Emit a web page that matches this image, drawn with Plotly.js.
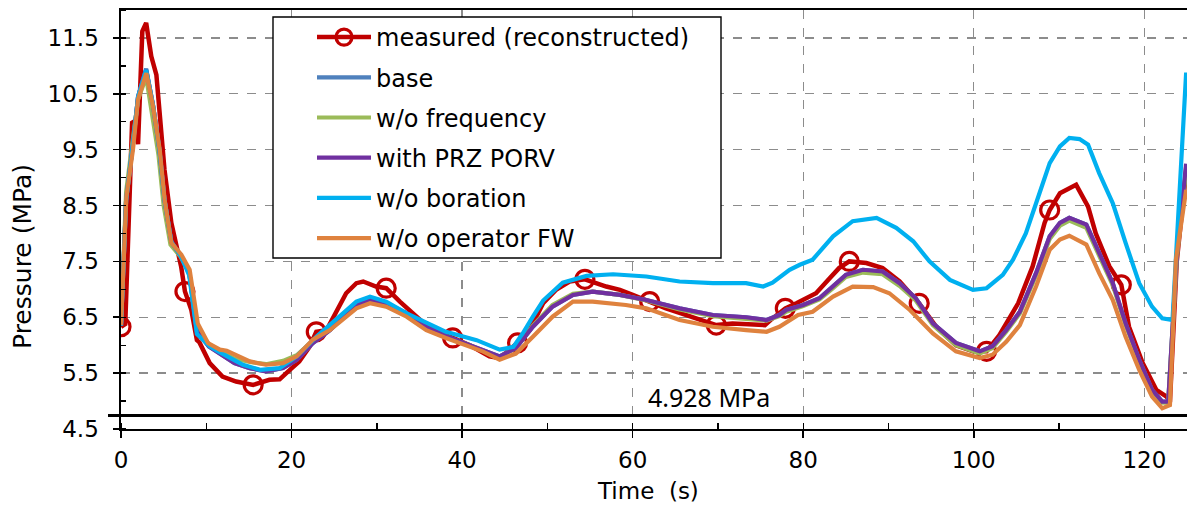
<!DOCTYPE html>
<html>
<head>
<meta charset="utf-8">
<script src="https://cdn.plot.ly/plotly-3.0.1.min.js"></script>
<style>html,body{margin:0;padding:0;background:#fff;}#chart{width:1187px;height:508px;}</style>
</head>
<body>
<div id="chart"></div>
<script>
// ---- Data ----
const seriesNames = ["measured (reconstructed)", "base", "w/o frequency", "with PRZ PORV", "w/o boration", "w/o operator FW"];

const tMeasured = [0,0.5,1.3,1.5,2.0,2.5,2.95,3.55,4.15,5.1,5.9,6.4,7.05,7.5,8.25,8.9,9.2,10.4,11.9,13.5,15.5,17.4,18.6,19.8,20.9,22.1,22.9,24.1,25.2,26.4,27.6,28.4,29.9,31.1,32.7,34.2,36.2,38.9,40.9,43.2,44.4,46.5,47.9,49.5,51.0,52.6,54.4,56.9,58.5,60.0,62.0,63.9,66.3,68.0,69.8,71.7,74.1,75.5,76.4,77.9,79.2,80.0,81.5,83.1,84.2,85.4,87.4,89.3,91.3,93.6,95.6,97.9,99.9,101.5,103.0,105.2,106.9,108.3,108.9,110.1,112.0,113.4,114.3,115.9,117.3,118.2,119.8,121.4,122.6,123.0,123.8,124.9];
const pMeasured = [6.33,6.38,9.98,10.0,9.6,11.62,11.77,11.17,10.84,9.14,8.19,7.83,7.41,6.96,6.63,6.09,6.05,5.68,5.44,5.35,5.29,5.38,5.39,5.56,5.71,5.97,6.24,6.27,6.57,6.93,7.11,7.14,7.05,7.02,6.78,6.57,6.30,6.13,6.00,5.80,5.77,6.04,6.27,6.75,6.99,7.14,7.18,7.05,6.99,6.90,6.78,6.66,6.54,6.45,6.36,6.39,6.36,6.36,6.48,6.66,6.75,6.81,6.93,7.20,7.38,7.50,7.47,7.38,7.14,6.75,6.33,6.00,5.89,5.89,6.18,6.75,7.41,8.19,8.42,8.72,8.87,8.48,8.00,7.41,7.08,6.33,5.68,5.20,5.08,4.98,7.5,9.1];
const tMeasuredMarkers = [0,7.5,15.5,22.9,31.1,38.9,46.5,54.4,62.0,69.8,77.9,85.4,93.6,101.5,108.9,117.3];

const tBase = [0,0.6,1.4,2.0,2.95,3.75,4.5,5.1,5.9,7.0,8.0,8.9,10.3,11.6,13.3,15.1,17.0,19.0,20.6,22.5,24.5,26.0,27.6,29.2,31.1,33.5,35.8,38.1,40.5,42.4,44.4,46.3,48.3,50.6,53.0,55.3,58.5,61.6,65.5,69.4,73.3,75.7,77.2,78.0,80.0,81.9,83.5,85.0,87.0,89.3,91.3,93.2,95.2,97.9,100.7,102.2,103.8,105.4,107.3,108.9,110.1,111.2,113.2,114.7,116.3,117.8,119.4,120.9,122.1,122.8,123.8,124.9];
const pBase = [6.35,8.6,9.6,10.45,10.95,10.3,9.5,8.6,7.85,7.6,7.3,6.25,5.98,5.85,5.68,5.59,5.53,5.59,5.74,6.04,6.27,6.5,6.72,6.81,6.75,6.57,6.33,6.16,6.03,5.92,5.8,5.95,6.33,6.69,6.9,6.96,6.9,6.81,6.66,6.54,6.5,6.45,6.54,6.63,6.72,6.84,7.05,7.26,7.35,7.32,7.11,6.84,6.39,6.04,5.89,5.98,6.27,6.6,7.29,7.95,8.19,8.28,8.16,7.65,7.11,6.39,5.74,5.2,4.99,4.99,7.6,9.2];

const tNoFreq = [0,0.6,1.4,2.0,2.95,3.6,4.4,5.0,5.8,7.0,8.0,8.9,10.3,11.6,13.3,15.1,17.0,19.0,20.6,22.5,24.5,26.0,27.6,29.2,31.1,33.5,35.8,38.1,40.5,42.4,44.4,46.3,48.3,50.6,53.0,55.3,58.5,61.6,65.5,69.4,73.3,75.7,77.2,78.0,80.0,81.9,83.5,85.0,87.0,89.3,91.3,93.2,95.2,97.9,100.7,102.2,103.8,105.4,107.3,108.9,110.1,111.2,113.2,114.7,116.3,117.8,119.4,120.9,122.1,122.8,123.8,124.9];
const pNoFreq = [6.4,8.75,9.7,10.4,10.8,10.2,9.4,8.5,7.8,7.58,7.3,6.3,6.02,5.9,5.76,5.7,5.66,5.72,5.82,6.08,6.28,6.48,6.7,6.78,6.72,6.54,6.3,6.14,6.02,5.9,5.79,5.95,6.35,6.72,6.92,6.96,6.9,6.8,6.64,6.52,6.48,6.44,6.52,6.6,6.7,6.82,7.02,7.22,7.3,7.27,7.06,6.8,6.36,6.0,5.85,5.95,6.24,6.57,7.25,7.9,8.14,8.23,8.1,7.6,7.07,6.36,5.72,5.18,4.97,4.97,7.55,9.15];

const tPorv = [0,0.6,1.4,2.0,2.95,3.75,4.5,5.1,5.9,7.0,8.0,8.9,10.3,11.6,13.3,15.1,17.0,19.0,20.6,22.5,24.5,26.0,27.6,29.2,31.1,33.5,35.8,38.1,40.5,42.4,44.4,46.3,48.3,50.6,53.0,55.3,58.5,61.6,65.5,69.4,73.3,75.7,77.2,78.0,80.0,81.9,83.5,85.0,87.0,89.3,91.3,93.2,95.2,97.9,100.7,102.2,103.8,105.4,107.3,108.9,110.1,111.2,113.2,114.7,116.3,117.8,119.4,120.9,122.1,122.8,123.8,124.9];
const pPorv = [6.35,8.6,9.6,10.45,10.93,10.3,9.5,8.6,7.85,7.6,7.3,6.25,5.98,5.85,5.68,5.59,5.53,5.59,5.74,6.04,6.27,6.5,6.72,6.81,6.75,6.57,6.33,6.16,6.03,5.92,5.8,5.95,6.33,6.69,6.9,6.96,6.9,6.81,6.66,6.54,6.5,6.45,6.54,6.63,6.72,6.84,7.05,7.26,7.35,7.32,7.11,6.84,6.39,6.04,5.89,5.98,6.27,6.6,7.29,7.95,8.19,8.28,8.16,7.65,7.11,6.39,5.74,5.2,4.99,4.99,7.6,9.25];

const tNoBoration = [0,0.6,1.4,2.0,2.95,3.75,4.5,5.1,5.9,7.0,8.0,8.9,10.4,11.6,14.3,16.3,18.6,20.6,22.9,25.6,27.6,29.2,31.1,33.5,38.1,41.7,43.2,44.4,46.0,47.1,48.3,49.5,51.8,54.6,57.7,61.6,65.5,69.4,73.3,75.3,76.4,78.4,79.6,81.1,83.5,85.8,88.6,90.9,92.9,94.8,97.2,99.9,101.5,103.4,104.6,106.1,107.7,108.9,110.1,111.2,112.4,113.4,114.7,116.3,117.8,119.4,120.9,122.1,123.3,124.9];
const pNoBoration = [6.35,8.6,9.6,10.45,10.93,10.3,9.5,8.6,7.85,7.6,7.25,6.2,5.98,5.87,5.65,5.56,5.59,5.8,6.15,6.51,6.78,6.87,6.78,6.57,6.24,6.09,6.0,5.92,5.97,6.21,6.51,6.8,7.12,7.24,7.27,7.23,7.14,7.11,7.11,7.05,7.12,7.35,7.44,7.53,7.95,8.22,8.28,8.1,7.86,7.5,7.17,6.99,7.02,7.26,7.53,8.0,8.72,9.26,9.56,9.71,9.69,9.59,9.08,8.54,7.83,7.11,6.69,6.48,6.45,10.88];

const tNoOpFW = [0,0.63,1.4,2.0,2.97,3.75,4.54,5.12,5.9,7.08,8.05,9.0,10.2,11.6,12.4,15.1,17.0,19.0,20.6,22.5,24.5,26.0,27.6,29.2,31.1,33.5,35.8,38.1,40.5,42.4,44.4,46.3,48.3,50.6,53.0,55.3,59.2,61.6,65.5,69.4,73.3,75.7,77.2,79.4,81.1,83.5,85.8,88.2,90.1,92.5,95.2,97.9,100.7,102.2,103.8,105.4,107.3,108.9,110.1,111.2,113.2,114.7,116.3,117.8,119.4,120.9,122.1,123.0,123.7,124.9];
const pNoOpFW = [6.36,8.66,9.5,10.4,10.87,10.28,9.5,8.6,7.83,7.62,7.35,6.39,6.04,5.92,5.9,5.71,5.65,5.68,5.8,6.1,6.27,6.45,6.66,6.75,6.69,6.51,6.27,6.13,6.0,5.89,5.74,5.85,6.15,6.51,6.78,6.78,6.72,6.66,6.45,6.33,6.27,6.24,6.33,6.54,6.6,6.87,7.05,7.04,6.93,6.63,6.21,5.89,5.77,5.83,6.06,6.36,7.05,7.71,7.89,7.96,7.8,7.29,6.81,6.15,5.56,5.08,4.87,4.93,7.53,8.78];

const thresholdValue = 4.74;          // drawn position of the black limit line
const thresholdLabel = "4.928 MPa";
const xTickVals = [0,20,40,60,80,100,120];
const yTickVals = [4.5,5.5,6.5,7.5,8.5,9.5,10.5,11.5];

// ---- Styles ----
const colors = ["#C00000", "#4F81BD", "#9BBB59", "#7030A0", "#00B0F0", "#DF823E"];
const FONT = "DejaVu Sans, Liberation Sans, Arial, sans-serif";
const tickFont = {family: FONT, size: 23, color: "#000"};

const markerY = tMeasuredMarkers.map(t => pMeasured[tMeasured.indexOf(t)]);

const measuredMarker = {symbol: "circle-open", size: 18, color: colors[0], line: {width: 3.2, color: colors[0]}};

const traces = [
  {x: [null], y: [null], name: seriesNames[0], mode: "lines+markers", legendgroup: "g0",
   line: {color: colors[0], width: 4.5}, marker: measuredMarker, legendrank: 1},
  {x: tMeasured, y: pMeasured, mode: "lines", showlegend: false, legendgroup: "g0",
   line: {color: colors[0], width: 4.5}, hoverinfo: "skip"},
  {x: tMeasuredMarkers, y: markerY, mode: "markers", showlegend: false, legendgroup: "g0",
   marker: measuredMarker, hoverinfo: "skip"},
  {x: tBase, y: pBase, name: seriesNames[1], mode: "lines", legendgroup: "g1", legendrank: 2,
   line: {color: colors[1], width: 4.2}},
  {x: tNoFreq, y: pNoFreq, name: seriesNames[2], mode: "lines", legendgroup: "g2", legendrank: 3,
   line: {color: colors[2], width: 4.2}},
  {x: tPorv, y: pPorv, name: seriesNames[3], mode: "lines", legendgroup: "g3", legendrank: 4,
   line: {color: colors[3], width: 4.2}},
  {x: tNoBoration, y: pNoBoration, name: seriesNames[4], mode: "lines", legendgroup: "g4", legendrank: 5,
   line: {color: colors[4], width: 4.2}},
  {x: tNoOpFW, y: pNoOpFW, name: seriesNames[5], mode: "lines", legendgroup: "g5", legendrank: 6,
   line: {color: colors[5], width: 4.2}}
];

const W = 1187, H = 508, L = 121, R = 0, T = 10, B = 79;
const pw = W - L - R, ph = H - T - B;
const px2paperX = p => (p - L) / pw;
const py2paperY = p => 1 - (p - T) / ph;

const layout = {
  width: W, height: H,
  margin: {l: L, r: R, t: T, b: B, pad: 0},
  paper_bgcolor: "#fff", plot_bgcolor: "#fff",
  showlegend: true,
  legend: {
    x: px2paperX(312), y: py2paperY(15), xanchor: "left", yanchor: "top",
    bgcolor: "rgba(0,0,0,0)", borderwidth: 0,
    font: {family: FONT, size: 24, color: "#000"},
    traceorder: "grouped", tracegroupgap: 6, itemwidth: 54
  },
  xaxis: {
    range: [0, 125], tickvals: xTickVals, ticktext: xTickVals.map(String),
    showline: true, linecolor: "#000", linewidth: 1.6, mirror: true,
    ticks: "outside", ticklen: 7, tickwidth: 1.6, tickcolor: "#000",
    minor: {dtick: 10, tick0: 0, ticks: "inside", ticklen: 6, tickwidth: 1.4, tickcolor: "#000", showgrid: false},
    showgrid: true, gridcolor: "#8c8c8c", gridwidth: 1.3, griddash: "dash",
    zeroline: false, tickfont: tickFont, ticklabelstandoff: 3
  },
  yaxis: {
    range: [4.5, 12.0], tickvals: yTickVals, ticktext: yTickVals.map(v => v.toFixed(1)),
    showline: true, linecolor: "#000", linewidth: 1.6,
    ticks: "outside", ticklen: 6, tickwidth: 1.6, tickcolor: "#000",
    minor: {dtick: 0.5, tick0: 4.5, ticks: "inside", ticklen: 5, tickwidth: 1.4, tickcolor: "#000", showgrid: false},
    showgrid: true, gridcolor: "#8c8c8c", gridwidth: 1.3, griddash: "dash",
    zeroline: false, tickfont: tickFont, ticklabelstandoff: 10
  },
  shapes: [
    {type: "line", xref: "paper", yref: "y", x0: px2paperX(108), x1: 1, y0: thresholdValue, y1: thresholdValue,
     line: {color: "#000", width: 3}, layer: "above"},
    {type: "rect", xref: "paper", yref: "paper",
     x0: px2paperX(273), x1: px2paperX(721), y0: py2paperY(258), y1: py2paperY(17),
     fillcolor: "#fff", line: {color: "#000", width: 1.4}, layer: "above"}
  ],
  annotations: [
    {text: thresholdLabel, xref: "x", yref: "y", x: 69.0, y: thresholdValue, xanchor: "center", yanchor: "bottom",
     yshift: 0, showarrow: false, font: {family: "Noto Sans, Lato, sans-serif", size: 25, color: "#000"}},
    {text: "Pressure (MPa)", xref: "paper", yref: "paper", x: px2paperX(22), y: py2paperY(257),
     xanchor: "center", yanchor: "middle", textangle: -90, showarrow: false,
     font: {family: FONT, size: 25, color: "#000"}},
    {text: "Time  (s)", xref: "paper", yref: "paper", x: px2paperX(648), y: py2paperY(491),
     xanchor: "center", yanchor: "middle", showarrow: false,
     font: {family: FONT, size: 23, color: "#000"}}
  ]
};

Plotly.newPlot("chart", traces, layout, {staticPlot: true, displayModeBar: false});
</script>
</body>
</html>
